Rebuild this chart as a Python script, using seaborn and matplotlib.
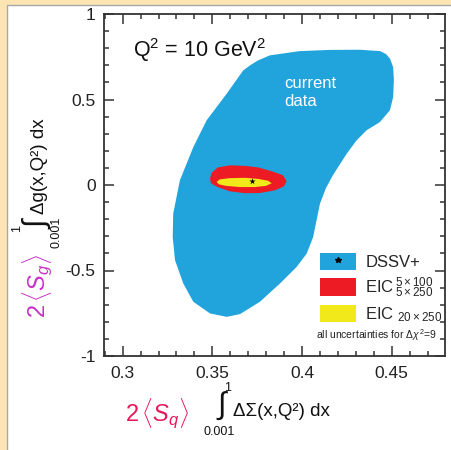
import matplotlib
matplotlib.use("Agg")
import matplotlib.pyplot as plt
import matplotlib.patches as mpatches
from matplotlib.lines import Line2D
from matplotlib.legend_handler import HandlerTuple
from matplotlib.ticker import MultipleLocator
import seaborn as sns

# DSSV+ (current data) uncertainty region, boundary
dssv_x = [0.3820, 0.3988, 0.4156, 0.4323, 0.4435, 0.4468, 0.4491, 0.4508, 0.4512,
          0.4508, 0.4490, 0.4434, 0.4360, 0.4304, 0.4249, 0.4172, 0.4133, 0.4100,
          0.4081, 0.4062, 0.4026, 0.3970, 0.3877, 0.3765, 0.3654, 0.3580, 0.3487,
          0.3394, 0.3338, 0.3292, 0.3279, 0.3282, 0.3319, 0.3394, 0.3468, 0.3580,
          0.3672, 0.3715, 0.3754]
dssv_y = [0.758, 0.783, 0.790, 0.791, 0.783, 0.766, 0.738, 0.689, 0.612,
          0.514, 0.437, 0.368, 0.320, 0.261, 0.183, 0.057, -0.019, -0.109,
          -0.206, -0.304, -0.401, -0.479, -0.576, -0.683, -0.755, -0.771, -0.751,
          -0.683, -0.576, -0.440, -0.304, -0.167, 0.027, 0.222, 0.378, 0.534,
          0.670, 0.703, 0.728]

# EIC 5x100 / 5x250 region
eic_low_x = [0.3487, 0.3498, 0.3531, 0.3598, 0.3682, 0.3754, 0.3832, 0.3894, 0.3914,
             0.3899, 0.3849, 0.3765, 0.3682, 0.3598, 0.3531, 0.3492]
eic_low_y = [0.039, 0.074, 0.103, 0.115, 0.112, 0.103, 0.080, 0.057, 0.022,
             -0.008, -0.031, -0.047, -0.048, -0.037, -0.013, 0.010]

# EIC 20x250 region
eic_high_x = [0.3524, 0.3542, 0.3598, 0.3682, 0.3754, 0.3810, 0.3831, 0.3799,
              0.3738, 0.3654, 0.3576, 0.3537]
eic_high_y = [0.018, 0.033, 0.040, 0.042, 0.036, 0.025, 0.010, -0.005,
              -0.012, -0.012, -0.005, 0.004]

# best fit
best_x = [0.3723]
best_y = [0.023]

x_ticks = [0.3, 0.35, 0.4, 0.45]
x_tick_labels = ["0.3", "0.35", "0.4", "0.45"]
y_ticks = [-1, -0.5, 0, 0.5, 1]
y_tick_labels = ["-1", "-0.5", "0", "0.5", "1"]
legend_labels = ["DSSV+", r"EIC$\,^{5\times100}_{5\times250}$", r"EIC $_{20\times250}$"]

BLUE = "#21a3dc"
RED = "#ed1c24"
YELLOW = "#f2e91a"

sns.set_theme(style="ticks")
plt.rcParams["font.family"] = ["Liberation Sans", "DejaVu Sans"]
plt.rcParams["mathtext.fontset"] = "custom"
plt.rcParams["mathtext.rm"] = "Liberation Sans"
plt.rcParams["mathtext.it"] = "Liberation Sans:italic"
plt.rcParams["mathtext.bf"] = "Liberation Sans:bold"

W, H = 451, 450
fig = plt.figure(figsize=(W / 100, H / 100), dpi=100)
fig.patch.set_facecolor("#fce5b3")
fig.patches.append(mpatches.Rectangle((7 / W, -0.01), 1.0, 1 - 5 / H + 0.01,
                                      transform=fig.transFigure, facecolor="white",
                                      edgecolor="#a8a8a8", lw=1, zorder=-5))

ax = fig.add_axes([104 / W, 1 - 356 / H, 341 / W, 342 / H])
ax.set_facecolor("none")

ax.fill(dssv_x, dssv_y, color=BLUE, lw=0, zorder=1)
ax.fill(eic_low_x, eic_low_y, color=RED, lw=0, zorder=2)
ax.fill(eic_high_x, eic_high_y, color=YELLOW, lw=0, zorder=3)
sns.scatterplot(x=best_x, y=best_y, marker="*", color="black", s=22,
                linewidth=0, ax=ax, zorder=4)

ax.set_xlim(0.2896, 0.4797)
ax.set_ylim(-1, 1)
ax.set_xticks(x_ticks)
ax.set_xticklabels(x_tick_labels)
ax.set_yticks(y_ticks)
ax.set_yticklabels(y_tick_labels)
ax.xaxis.set_minor_locator(MultipleLocator(0.01))
ax.yaxis.set_minor_locator(MultipleLocator(0.1))
ax.tick_params(which="both", direction="in", top=True, right=True,
               color="#333333", width=1.1, labelsize=12.5, labelcolor="#222222")
ax.tick_params(which="major", length=7.5)
ax.tick_params(which="minor", length=3.8)
ax.tick_params(axis="x", pad=7)
ax.tick_params(axis="y", pad=6)
for s in ax.spines.values():
    s.set_linewidth(1.3)
    s.set_color("#333333")

ax.text(0.085, 0.895, r"Q$^2$ = 10 GeV$^2$", transform=ax.transAxes,
        fontsize=15.5, color="#111111", va="center")
ax.text(0.53, 0.77, "current\ndata", transform=ax.transAxes, fontsize=12,
        color="white", va="center", linespacing=1.25)

handles = [(mpatches.Patch(facecolor=BLUE, lw=0),
            Line2D([], [], marker="*", color="black", ls="none", markersize=4)),
           mpatches.Patch(facecolor=RED, lw=0),
           mpatches.Patch(facecolor=YELLOW, lw=0)]
ax.legend(handles, legend_labels, loc="upper left", bbox_to_anchor=(0.632, 0.302),
          frameon=False, fontsize=12, handlelength=2.2, handleheight=1.25,
          handletextpad=0.55, labelspacing=0.3, borderpad=0, borderaxespad=0,
          handler_map={tuple: HandlerTuple(ndivide=1)})
ax.text(0.975, 0.062, r"all uncertainties for $\Delta\chi^2$=9", transform=ax.transAxes,
        fontsize=7.5, ha="right", va="center", color="#222222")


def ftext(x, y, s, **kw):
    fig.text(x / W, 1 - y / H, s, ha="center", va="center", **kw)


# x axis label
ftext(157, 414, r"$2\,\langle S_q\rangle$", fontsize=17, color="#e8185a")
ftext(222, 406, "\u222b", fontsize=22, color="#111111")
ftext(228, 388, "1", fontsize=9, color="#111111")
ftext(219, 432, "0.001", fontsize=9, color="#111111")
ftext(281, 412, "\u0394\u03a3(x,Q\u00b2) dx", fontsize=13.5, color="#111111")

# y axis label
ftext(38, 286, r"$2\,\langle S_g\rangle$", fontsize=17, color="#c632c6", rotation=90)
ftext(38, 225, "\u222b", fontsize=22, color="#111111", rotation=90)
ftext(17, 229, "1", fontsize=9, color="#111111", rotation=90)
ftext(57, 232, "0.001", fontsize=9, color="#111111", rotation=90)
ftext(40, 166, "\u0394g(x,Q\u00b2) dx", fontsize=13.5, color="#111111", rotation=90)

fig.savefig("out.png", dpi=100)
